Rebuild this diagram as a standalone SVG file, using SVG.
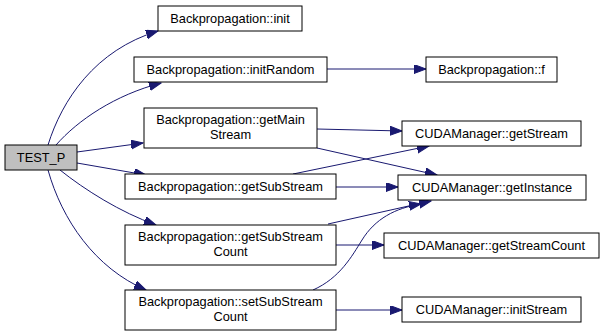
<svg xmlns="http://www.w3.org/2000/svg" width="605" height="336" viewBox="0 0 605 336">
  <style>
    .node rect { fill: #ffffff; stroke: #000000; stroke-width: 1; }
    .node.root rect { fill: #bfbfbf; }
    .node text { font-family: "Liberation Sans", Arial, Helvetica, sans-serif; font-size: 12.8px; fill: #000000; text-anchor: middle; }
    .edges path { fill: none; stroke: #191970; stroke-width: 1; }
  </style>
  <defs>
    <marker id="arrow" markerUnits="userSpaceOnUse" markerWidth="14" markerHeight="10" refX="12" refY="4.5" orient="auto">
      <path d="M0,0 L12,4.5 L0,9 z" fill="#191970" stroke="#191970" stroke-width="1"/>
    </marker>
  </defs>

  <rect width="605" height="336" fill="#ffffff"/>

  <g class="edges">
    <path marker-end="url(#arrow)" d="M48,145 C62,100 95,50 158,31"/>
    <path marker-end="url(#arrow)" d="M56,145 C78,120 115,95 161,83"/>
    <path marker-end="url(#arrow)" d="M77,152 L143,143"/>
    <path marker-end="url(#arrow)" d="M77,163 L146,175"/>
    <path marker-end="url(#arrow)" d="M60,170 C85,190 120,212 156,225"/>
    <path marker-end="url(#arrow)" d="M48,170 C62,220 95,268 146,290"/>
    <path marker-end="url(#arrow)" d="M327,69 L426,69"/>
    <path marker-end="url(#arrow)" d="M317,129 L402,131"/>
    <path marker-end="url(#arrow)" d="M317,148 L437,175"/>
    <path marker-end="url(#arrow)" d="M293,174 L429,146"/>
    <path marker-end="url(#arrow)" d="M336,187 L398,187"/>
    <path marker-end="url(#arrow)" d="M328,224 L431,201"/>
    <path marker-end="url(#arrow)" d="M336,245 L384,245"/>
    <path marker-end="url(#arrow)" d="M313,290 C340,278 352,256 362,240 C375,219 395,208 421,204"/>
    <path marker-end="url(#arrow)" d="M336,310 L402,310"/>
  </g>

  <g id="test_p" class="node root">
    <rect x="5" y="145" width="72" height="25"/>
    <text x="41" y="162">TEST_P</text>
  </g>
  <g id="bp_init" class="node">
    <rect x="158" y="6" width="144" height="25"/>
    <text x="230" y="23">Backpropagation::init</text>
  </g>
  <g id="bp_initRandom" class="node">
    <rect x="134" y="57" width="193" height="25"/>
    <text x="230.5" y="74">Backpropagation::initRandom</text>
  </g>
  <g id="bp_getMainStream" class="node">
    <rect x="144" y="108" width="173" height="40"/>
    <text x="230.5" y="123.5">Backpropagation::getMain</text>
    <text x="230.5" y="139">Stream</text>
  </g>
  <g id="bp_getSubStream" class="node">
    <rect x="125" y="174" width="211" height="25"/>
    <text x="230.5" y="191">Backpropagation::getSubStream</text>
  </g>
  <g id="bp_getSubStreamCount" class="node">
    <rect x="125" y="225" width="211" height="40"/>
    <text x="230.5" y="240.5">Backpropagation::getSubStream</text>
    <text x="230.5" y="256">Count</text>
  </g>
  <g id="bp_setSubStreamCount" class="node">
    <rect x="125" y="290" width="211" height="40"/>
    <text x="230.5" y="305.5">Backpropagation::setSubStream</text>
    <text x="230.5" y="321">Count</text>
  </g>
  <g id="bp_f" class="node">
    <rect x="426" y="57" width="131" height="25"/>
    <text x="491.5" y="74">Backpropagation::f</text>
  </g>
  <g id="cuda_getStream" class="node">
    <rect x="402" y="121" width="179" height="25"/>
    <text x="491.5" y="138">CUDAManager::getStream</text>
  </g>
  <g id="cuda_getInstance" class="node">
    <rect x="398" y="175" width="188" height="25"/>
    <text x="492" y="192">CUDAManager::getInstance</text>
  </g>
  <g id="cuda_getStreamCount" class="node">
    <rect x="384" y="233" width="215" height="25"/>
    <text x="491.5" y="250">CUDAManager::getStreamCount</text>
  </g>
  <g id="cuda_initStream" class="node">
    <rect x="402" y="297" width="179" height="25"/>
    <text x="491.5" y="314">CUDAManager::initStream</text>
  </g>
</svg>
